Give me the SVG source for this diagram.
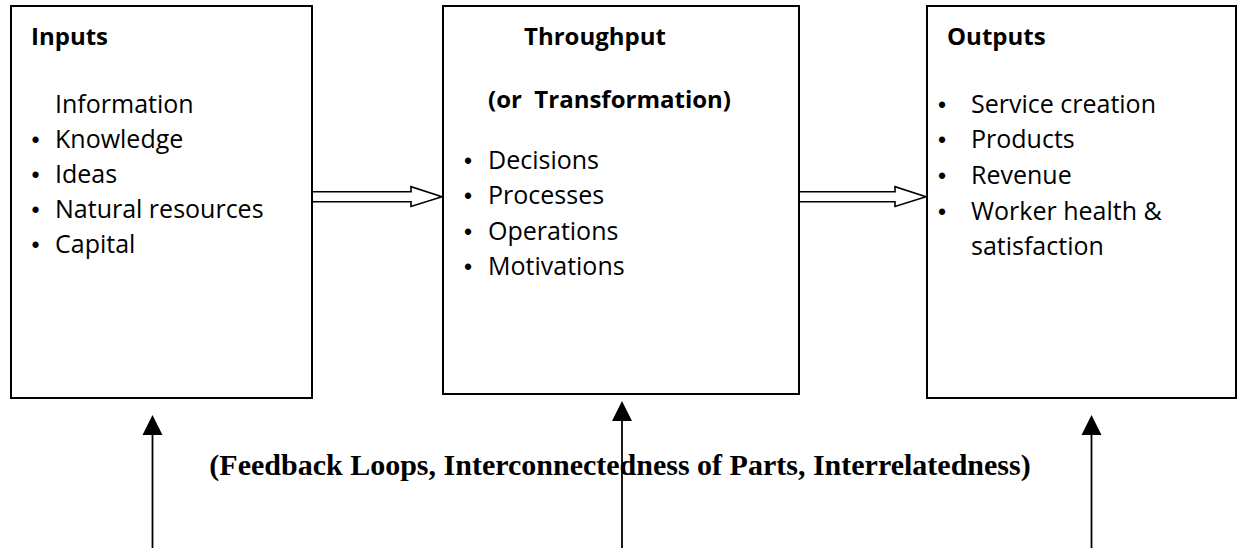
<svg xmlns="http://www.w3.org/2000/svg" width="1239" height="548" viewBox="0 0 1239 548">
<style>
.box{fill:#fff;stroke:#000;stroke-width:2}
.t{font-family:"Open Sans","Liberation Sans",sans-serif;font-size:25px;fill:#000}
.b{font-family:"Liberation Sans",Arial,sans-serif;font-size:23px}
.h{font-family:"Open Sans","Liberation Sans",sans-serif;font-size:24px;font-weight:bold;fill:#000}
.fb{font-family:"Liberation Serif","Times New Roman",serif;font-size:30px;font-weight:bold;fill:#000}
.blk{fill:#fff;stroke:#000;stroke-width:1.6;stroke-linejoin:miter}
.vl{stroke:#000;stroke-width:1.8}
.hd{fill:#000}
</style>
<rect width="1239" height="548" fill="#fff"/>
<g id="connectors">
<polygon class="blk" points="312,191.7 411,191.7 411,186.7 442,196.7 411,206.5 411,201.7 312,201.7"/>
<polygon class="blk" points="799,191.7 895,191.7 895,186.7 926,196.7 895,206.5 895,201.7 799,201.7"/>
<line class="vl" x1="152.5" y1="548" x2="152.5" y2="433"/>
<polygon class="hd" points="152.5,415 142.5,435 162.5,435"/>
<line class="vl" x1="622" y1="548" x2="622" y2="419"/>
<polygon class="hd" points="622,401 612,421 632,421"/>
<line class="vl" x1="1091.5" y1="548" x2="1091.5" y2="433"/>
<polygon class="hd" points="1091.5,415 1081.5,435 1101.5,435"/>
</g>
<g id="inputs">
<rect class="box" x="11" y="6" width="301" height="392"/>
<text class="h" x="31" y="45">Inputs</text>
<text class="t" x="55" y="113">Information</text>
<text class="t" y="148"><tspan class="b" x="31.5">•</tspan><tspan x="55">Knowledge</tspan></text>
<text class="t" y="183"><tspan class="b" x="31.5">•</tspan><tspan x="55">Ideas</tspan></text>
<text class="t" y="218"><tspan class="b" x="31.5">•</tspan><tspan x="55">Natural resources</tspan></text>
<text class="t" y="253"><tspan class="b" x="31.5">•</tspan><tspan x="55">Capital</tspan></text>
</g>
<g id="throughput">
<rect class="box" x="443" y="6" width="356" height="388"/>
<text class="h" x="524" y="45">Throughput</text>
<text class="h" x="488" y="108" xml:space="preserve">(or  Transformation)</text>
<text class="t" y="169"><tspan class="b" x="464">•</tspan><tspan x="488">Decisions</tspan></text>
<text class="t" y="204"><tspan class="b" x="464">•</tspan><tspan x="488">Processes</tspan></text>
<text class="t" y="240"><tspan class="b" x="464">•</tspan><tspan x="488">Operations</tspan></text>
<text class="t" y="275"><tspan class="b" x="464">•</tspan><tspan x="488">Motivations</tspan></text>
</g>
<g id="outputs">
<rect class="box" x="927" y="6" width="309" height="392"/>
<text class="h" x="947" y="45">Outputs</text>
<text class="t" y="113"><tspan class="b" x="938">•</tspan><tspan x="971">Service creation</tspan></text>
<text class="t" y="148"><tspan class="b" x="938">•</tspan><tspan x="971">Products</tspan></text>
<text class="t" y="184"><tspan class="b" x="938">•</tspan><tspan x="971">Revenue</tspan></text>
<text class="t" y="220"><tspan class="b" x="938">•</tspan><tspan x="971">Worker health &amp;</tspan></text>
<text class="t" x="971" y="255">satisfaction</text>
</g>
<g id="feedback">
<text class="fb" x="620" y="475" text-anchor="middle">(Feedback Loops, Interconnectedness of Parts, Interrelatedness)</text>
</g>
</svg>
